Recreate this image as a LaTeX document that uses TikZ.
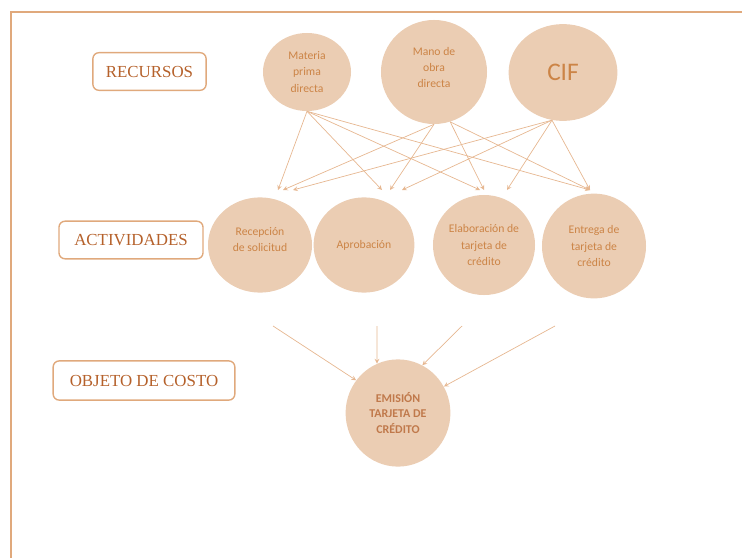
\documentclass[tikz,border=0pt]{standalone}
\usepackage{fontspec}
\newfontfamily\calibri{Carlito}
\newfontfamily\headfont{Liberation Serif}
\usetikzlibrary{shapes.geometric}
\definecolor{peach}{HTML}{EBCDB3}
\definecolor{rust}{HTML}{B5612B}
\definecolor{tan}{HTML}{E0A97C}
\definecolor{ochre}{HTML}{CC8446}
\definecolor{wire}{HTML}{E6B791}
\begin{document}
\begin{tikzpicture}[x=0.025cm, y=-0.025cm, >=stealth,
          lbl/.style={draw=tan, line width=1pt, rounded corners=0.15cm, text=rust, inner sep=0pt, minimum height=0.94cm, font=\headfont\fontsize{12}{13}\selectfont},
          blob/.style={ellipse, fill=peach, text=ochre, inner sep=0pt, align=center, font=\calibri\fontsize{8.3}{11.4}\selectfont},
          link/.style={->, draw=wire, line width=0.5pt}]
        \useasboundingbox (0,0) rectangle (742,558);
        \draw[tan, line width=1.6pt] (742,12) -- (11,12) -- (11,558);
        \node[lbl, minimum width=2.83cm] (recursos) at (149.5,71.5) {RECURSOS};
        \node[lbl, minimum width=3.6cm] (actividades) at (131,240) {ACTIVIDADES};
        \node[lbl, minimum width=4.54cm, minimum height=0.98cm] (objeto) at (144,380.5) {OBJETO DE COSTO};
        \node[blob, minimum width=2.2cm, minimum height=1.95cm] (mp) at (307,72) {Materia\\prima\\directa};
        \node[blob, minimum width=2.65cm, minimum height=2.6cm] (mano) at (434,72) {Mano de\\obra\\directa\\[-5pt]};
        \node[blob, minimum width=2.72cm, minimum height=2.42cm, font=\calibri\fontsize{18}{20}\selectfont] (cif) at (563,72.5) {CIF};
        \node[blob, minimum width=2.6cm, minimum height=2.38cm] (rec) at (260,245) {Recepción\\de solicitud\\[-4pt]};
        \node[blob, minimum width=2.52cm, minimum height=2.38cm] (apr) at (364,245) {Aprobación};
        \node[blob, minimum width=2.55cm, minimum height=2.5cm] (ela) at (484,245) {Elaboración de\\tarjeta de\\crédito};
        \node[blob, minimum width=2.6cm, minimum height=2.62cm] (ent) at (594,246) {Entrega de\\tarjeta de\\crédito};
        \node[blob, minimum width=2.62cm, minimum height=2.68cm, text=rust!85, font=\calibri\bfseries\fontsize{8.5}{10.7}\selectfont] (emision) at (398,413) {EMISIÓN\\TARJETA DE\\CRÉDITO};
        \coordinate (rec-a) at (278,190);
        \coordinate (rec-b) at (283,190);
        \coordinate (rec-c) at (293,190);
        \coordinate (apr-a) at (382,190);
        \coordinate (apr-b) at (390,190);
        \coordinate (apr-c) at (402,190);
        \coordinate (ela-a) at (480,190);
        \coordinate (ela-b) at (484,190);
        \coordinate (ela-c) at (507,190);
        \coordinate (ent-a) at (590,190);
        \foreach \s/\t in {mp.south/rec-a, mp.south/apr-a, mp.south/ela-a, mp.south/ent-a,
            mano.south/rec-b, mano.south/apr-b, mano.-72/ela-b, mano.-72/ent-a,
            cif.-103/rec-c, cif.-103/apr-c, cif.-103/ela-c, cif.-103/ent-a}
          \draw[link] (\s) -- (\t);
        \coordinate (in-a) at (273,326);
        \coordinate (in-b) at (377,326);
        \coordinate (in-c) at (462,326);
        \coordinate (in-d) at (555,326);
        \draw[link] (in-a) -- (emision.142);
        \draw[link] (in-b) -- (emision.113);
        \draw[link] (in-c) -- (emision.63);
        \draw[link] (in-d) -- (emision.30);
      \end{tikzpicture}
\end{document}
